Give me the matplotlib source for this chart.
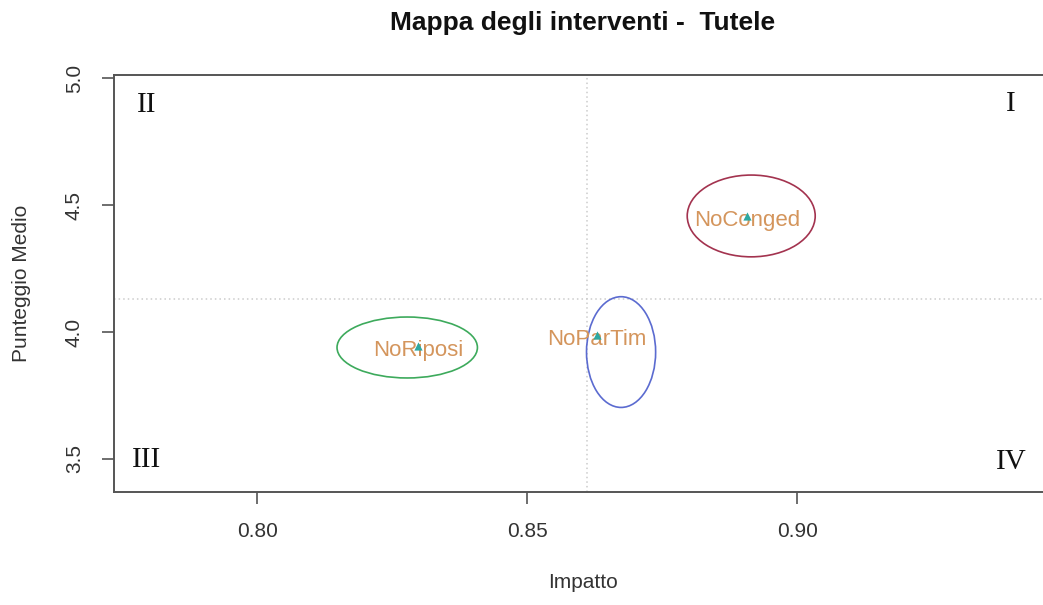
import numpy as np
import matplotlib
matplotlib.use("Agg")
import matplotlib.pyplot as plt
from matplotlib.patches import Ellipse

# ---- data ----
names = ["NoConged", "NoRiposi", "NoParTim"]
impatto = [0.8907, 0.8298, 0.8630]
punteggio = [4.457, 3.945, 3.988]
ell_cx = [0.8915, 0.8278, 0.8674]
ell_cy = [4.457, 3.939, 3.921]
ell_rx = [0.01185, 0.0130, 0.0064]
ell_ry = [0.161, 0.120, 0.218]
ell_colors = ["#A3334F", "#3DAA5C", "#5B6BD0"]
quadrants = ["I", "II", "III", "IV"]
xticks = [0.80, 0.85, 0.90]
yticks = [3.5, 4.0, 4.5, 5.0]
title = "Mappa degli interventi -  Tutele"

plt.rcParams['font.family'] = ['Liberation Sans', 'DejaVu Sans']

W, H = 1043, 605
fig = plt.figure(figsize=(W / 100, H / 100), dpi=100)
fig.patch.set_facecolor("white")

L, R, T, B = 114, 1052, 75, 492
ax = fig.add_axes([L / W, (H - B) / H, (R - L) / W, (B - T) / H])
ax.set_xlim(0.7735, 0.9472)
ax.set_ylim(3.370, 5.012)

for s in ax.spines.values():
    s.set_color("#555555")
    s.set_linewidth(1.4)

ax.set_xticks(xticks)
ax.set_xticklabels([f"{v:.2f}" for v in xticks])
ax.set_yticks(yticks)
ax.set_yticklabels([f"{v:.1f}" for v in yticks], rotation=90, va="center")
ax.tick_params(axis="both", direction="out", length=8.6, width=1.2,
               color="#555555", labelsize=15, labelcolor="#333333", pad=13)

# reference lines at the means
ax.axvline(np.mean(impatto), color="#cccccc", linestyle=(0, (1, 2)), linewidth=1.1, zorder=1)
ax.axhline(np.mean(punteggio), color="#cccccc", linestyle=(0, (1, 2)), linewidth=1.1, zorder=1)

# ellipses
for cx, cy, rx, ry, c in zip(ell_cx, ell_cy, ell_rx, ell_ry, ell_colors):
    ax.add_patch(Ellipse((cx, cy), 2 * rx, 2 * ry, fill=False, edgecolor=c, linewidth=1.2, zorder=2))

# points and labels
ax.scatter(impatto, punteggio, marker="^", s=35, color="#2EA8A0", zorder=4, linewidths=0)
for x, y, n in zip(impatto, punteggio, names):
    ax.annotate(n, (x, y), xytext=(0, -3), textcoords="offset points",
                ha="center", va="center", fontsize=16, color="#D4955C", zorder=3)

# quadrant labels
qpos = {"I": (0.956, 0.931), "II": (0.0352, 0.929), "III": (0.0352, 0.076), "IV": (0.957, 0.072)}
for q in quadrants:
    ax.text(*qpos[q], q, transform=ax.transAxes, ha="center", va="center",
            fontsize=21, family="Liberation Serif", color="#111111")

ax.set_xlabel("Impatto", fontsize=15, color="#333333", va="center")
ax.xaxis.set_label_coords(0.5, (H - 583 - (H - B)) / (B - T))
ax.set_ylabel("Punteggio Medio", fontsize=15, color="#333333", va="center")
ax.yaxis.set_label_coords((22 - L) / (R - L), 0.5)

fig.text(583 / W, 1 - 23 / H, title, ha="center", va="center", fontsize=19,
         fontweight="bold", color="#111111")

fig.savefig("out.png", dpi=100)
